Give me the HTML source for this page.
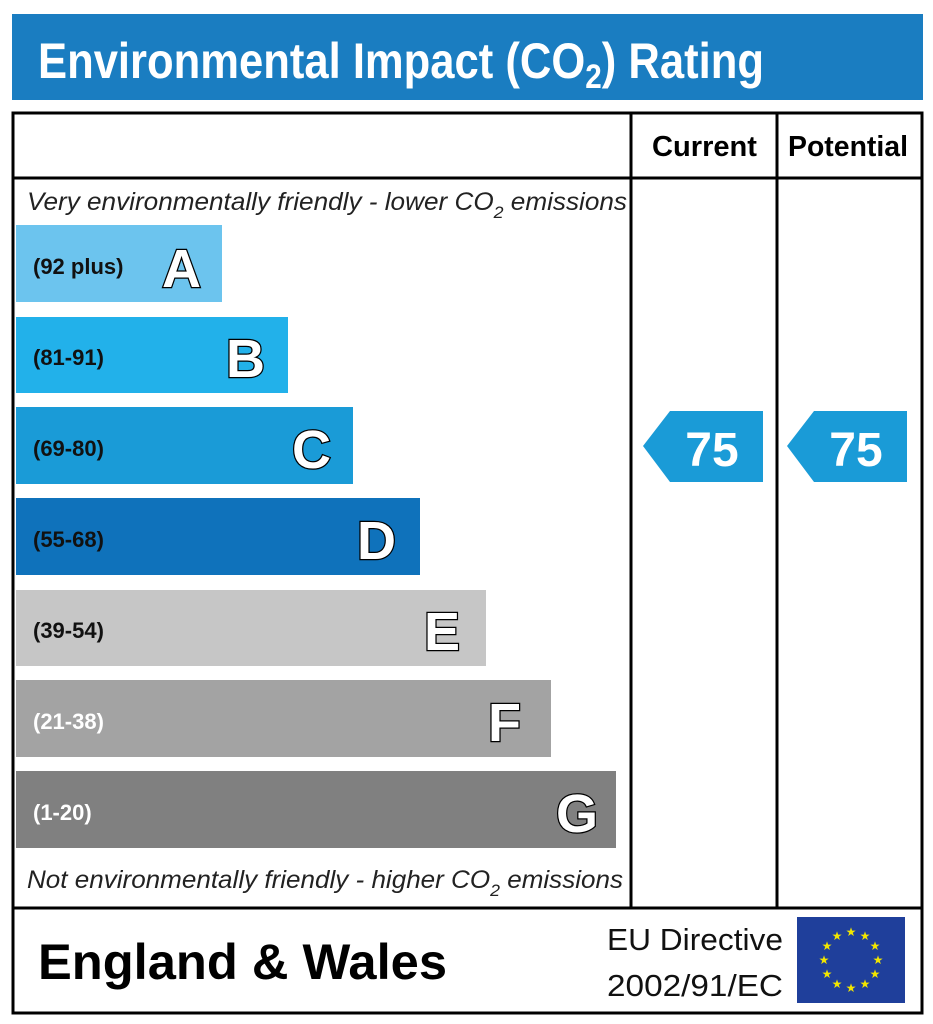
<!DOCTYPE html>
<html><head><meta charset="utf-8"><style>html,body{margin:0;padding:0;background:#fff}svg{display:block}</style></head>
<body>
<svg width="933" height="1024" viewBox="0 0 933 1024" xmlns="http://www.w3.org/2000/svg" font-family="Liberation Sans, Arial, sans-serif">
<rect x="12" y="14" width="911" height="86" fill="#1a7dc1"/>
<text x="38" y="78" font-size="50" font-weight="bold" fill="#fff" textLength="726" lengthAdjust="spacingAndGlyphs">Environmental Impact (CO<tspan font-size="34" dy="10">2</tspan><tspan dy="-10">) Rating</tspan></text>
<rect x="13" y="113" width="909" height="900" fill="none" stroke="#000" stroke-width="3"/>
<line x1="13" y1="178" x2="922" y2="178" stroke="#000" stroke-width="3"/>
<line x1="631" y1="113" x2="631" y2="908" stroke="#000" stroke-width="3"/>
<line x1="777" y1="113" x2="777" y2="908" stroke="#000" stroke-width="3"/>
<line x1="13" y1="908" x2="922" y2="908" stroke="#000" stroke-width="3"/>
<text x="652" y="156" font-size="29" font-weight="bold" textLength="105" lengthAdjust="spacingAndGlyphs">Current</text>
<text x="788" y="156" font-size="29" font-weight="bold" textLength="120" lengthAdjust="spacingAndGlyphs">Potential</text>
<text x="27" y="210" font-size="25" font-style="italic" fill="#222" textLength="600" lengthAdjust="spacingAndGlyphs">Very environmentally friendly - lower CO<tspan font-size="17" dy="8">2</tspan><tspan dy="-8"> emissions</tspan></text>
<text x="27" y="888" font-size="25" font-style="italic" fill="#222" textLength="596" lengthAdjust="spacingAndGlyphs">Not environmentally friendly - higher CO<tspan font-size="17" dy="8">2</tspan><tspan dy="-8"> emissions</tspan></text>
<g font-weight="bold">
<rect x="16" y="225" width="206" height="77" fill="#6cc4ee"/>
<text x="33" y="274" font-size="22" fill="#111">(92 plus)</text>
<rect x="16" y="317" width="272" height="76" fill="#22b1ea"/>
<text x="33" y="365" font-size="22" fill="#111">(81-91)</text>
<rect x="16" y="407" width="337" height="77" fill="#1a9bd7"/>
<text x="33" y="456" font-size="22" fill="#111">(69-80)</text>
<rect x="16" y="498" width="404" height="77" fill="#0f72bb"/>
<text x="33" y="547" font-size="22" fill="#111">(55-68)</text>
<rect x="16" y="590" width="470" height="76" fill="#c6c6c6"/>
<text x="33" y="638" font-size="22" fill="#111">(39-54)</text>
<rect x="16" y="680" width="535" height="77" fill="#a3a3a3"/>
<text x="33" y="729" font-size="22" fill="#fff">(21-38)</text>
<rect x="16" y="771" width="600" height="77" fill="#808080"/>
<text x="33" y="820" font-size="22" fill="#fff">(1-20)</text>
<g font-size="54" fill="#fff" stroke="#000" stroke-width="2.5" paint-order="stroke" text-anchor="end">
<text x="201" y="287">A</text>
<text x="265" y="377">B</text>
<text x="331" y="468">C</text>
<text x="396" y="559">D</text>
<text x="460" y="650">E</text>
<text x="521" y="741">F</text>
<text x="598" y="832">G</text>
</g>
<polygon points="643,446 670,411 763,411 763,482 670,482" fill="#1a9bd7"/>
<text x="712" y="466" font-size="48" fill="#fff" text-anchor="middle">75</text>
<polygon points="787,446 814,411 907,411 907,482 814,482" fill="#1a9bd7"/>
<text x="856" y="466" font-size="48" fill="#fff" text-anchor="middle">75</text>
<text x="38" y="979" font-size="50" fill="#000" textLength="409" lengthAdjust="spacingAndGlyphs">England &amp; Wales</text>
</g>
<text x="607" y="950" font-size="31" fill="#111" textLength="176" lengthAdjust="spacingAndGlyphs">EU Directive</text>
<text x="607" y="996" font-size="31" fill="#111" textLength="176" lengthAdjust="spacingAndGlyphs">2002/91/EC</text>
<rect x="797" y="917" width="108" height="86" fill="#1f3f9b"/>
<g fill="#f2e600" font-size="12" text-anchor="middle">
<text x="851" y="936">★</text><text x="865" y="940">★</text><text x="875" y="950">★</text><text x="878" y="964">★</text><text x="875" y="978">★</text><text x="865" y="988">★</text><text x="851" y="992">★</text><text x="837" y="988">★</text><text x="827" y="978">★</text><text x="824" y="964">★</text><text x="827" y="950">★</text><text x="837" y="940">★</text>
</g>
</svg>
</body></html>
